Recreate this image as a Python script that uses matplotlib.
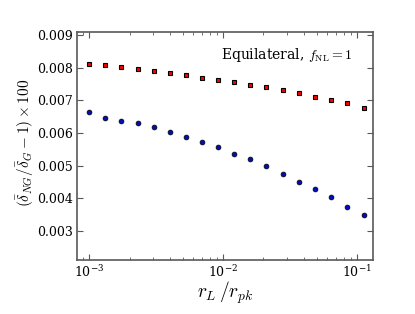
import matplotlib
matplotlib.use("Agg")
import matplotlib.pyplot as plt
import numpy as np

plt.rcParams['font.family'] = 'DejaVu Serif'
plt.rcParams['mathtext.fontset'] = 'cm'

# ratio r_L / r_pk
r_ratio = [0.00100, 0.00132, 0.00174, 0.00230, 0.00303, 0.00400, 0.00528, 0.00697,
           0.00920, 0.0121, 0.0160, 0.0211, 0.0279, 0.0368, 0.0486, 0.0641,
           0.0846, 0.112]
red_vals = [0.00813, 0.00808, 0.00803, 0.00797, 0.00791, 0.00785, 0.00777, 0.00770,
            0.00763, 0.00757, 0.00748, 0.00740, 0.00732, 0.00723, 0.00712, 0.00702,
            0.00691, 0.00676]
blue_vals = [0.00664, 0.00646, 0.00636, 0.00632, 0.00619, 0.00604, 0.00589, 0.00571,
             0.00556, 0.00536, 0.00519, 0.00498, 0.00475, 0.00451, 0.00427, 0.00404,
             0.00373, 0.00349]
yticks = [0.003, 0.004, 0.005, 0.006, 0.007, 0.008, 0.009]

fig = plt.figure(figsize=(4.15, 3.14), dpi=100)
ax = fig.add_axes([0.1855, 0.172, 0.7135, 0.726])

ax.plot(r_ratio, red_vals, 's', color='red', mec='black', mew=0.8, ms=3.2)
ax.plot(r_ratio, blue_vals, 'o', color='#0010b0', mec='black', mew=0.5, ms=3.5)

ax.set_xscale('log')
ax.set_xlim(8.1e-4, 0.132)
ax.set_ylim(0.0021, 0.0091)
ax.set_yticks(yticks)
ax.set_yticklabels(['%.3f' % v for v in yticks])
ax.tick_params(which='both', direction='in', top=True, right=True, labelsize=9,
               color='0.35', pad=3)
ax.tick_params(which='major', length=4)
ax.tick_params(which='minor', length=2)
for s in ax.spines.values():
    s.set_color('0.35')
    s.set_linewidth(1.2)

ax.text(0.93, 0.9, r'Equilateral, $f_{\rm NL}=1$', transform=ax.transAxes,
        ha='right', va='center', fontsize=10)
ax.set_xlabel(r'$r_L\,/r_{pk}$', fontsize=14, va='center')
ax.xaxis.set_label_coords(0.5, -0.145)
ax.set_ylabel(r'$(\bar{\delta}_{NG}/\bar{\delta}_G-1)\times 100$', fontsize=11, va='center')
ax.yaxis.set_label_coords(-0.175, 0.513)

fig.savefig('out.png', dpi=100)
